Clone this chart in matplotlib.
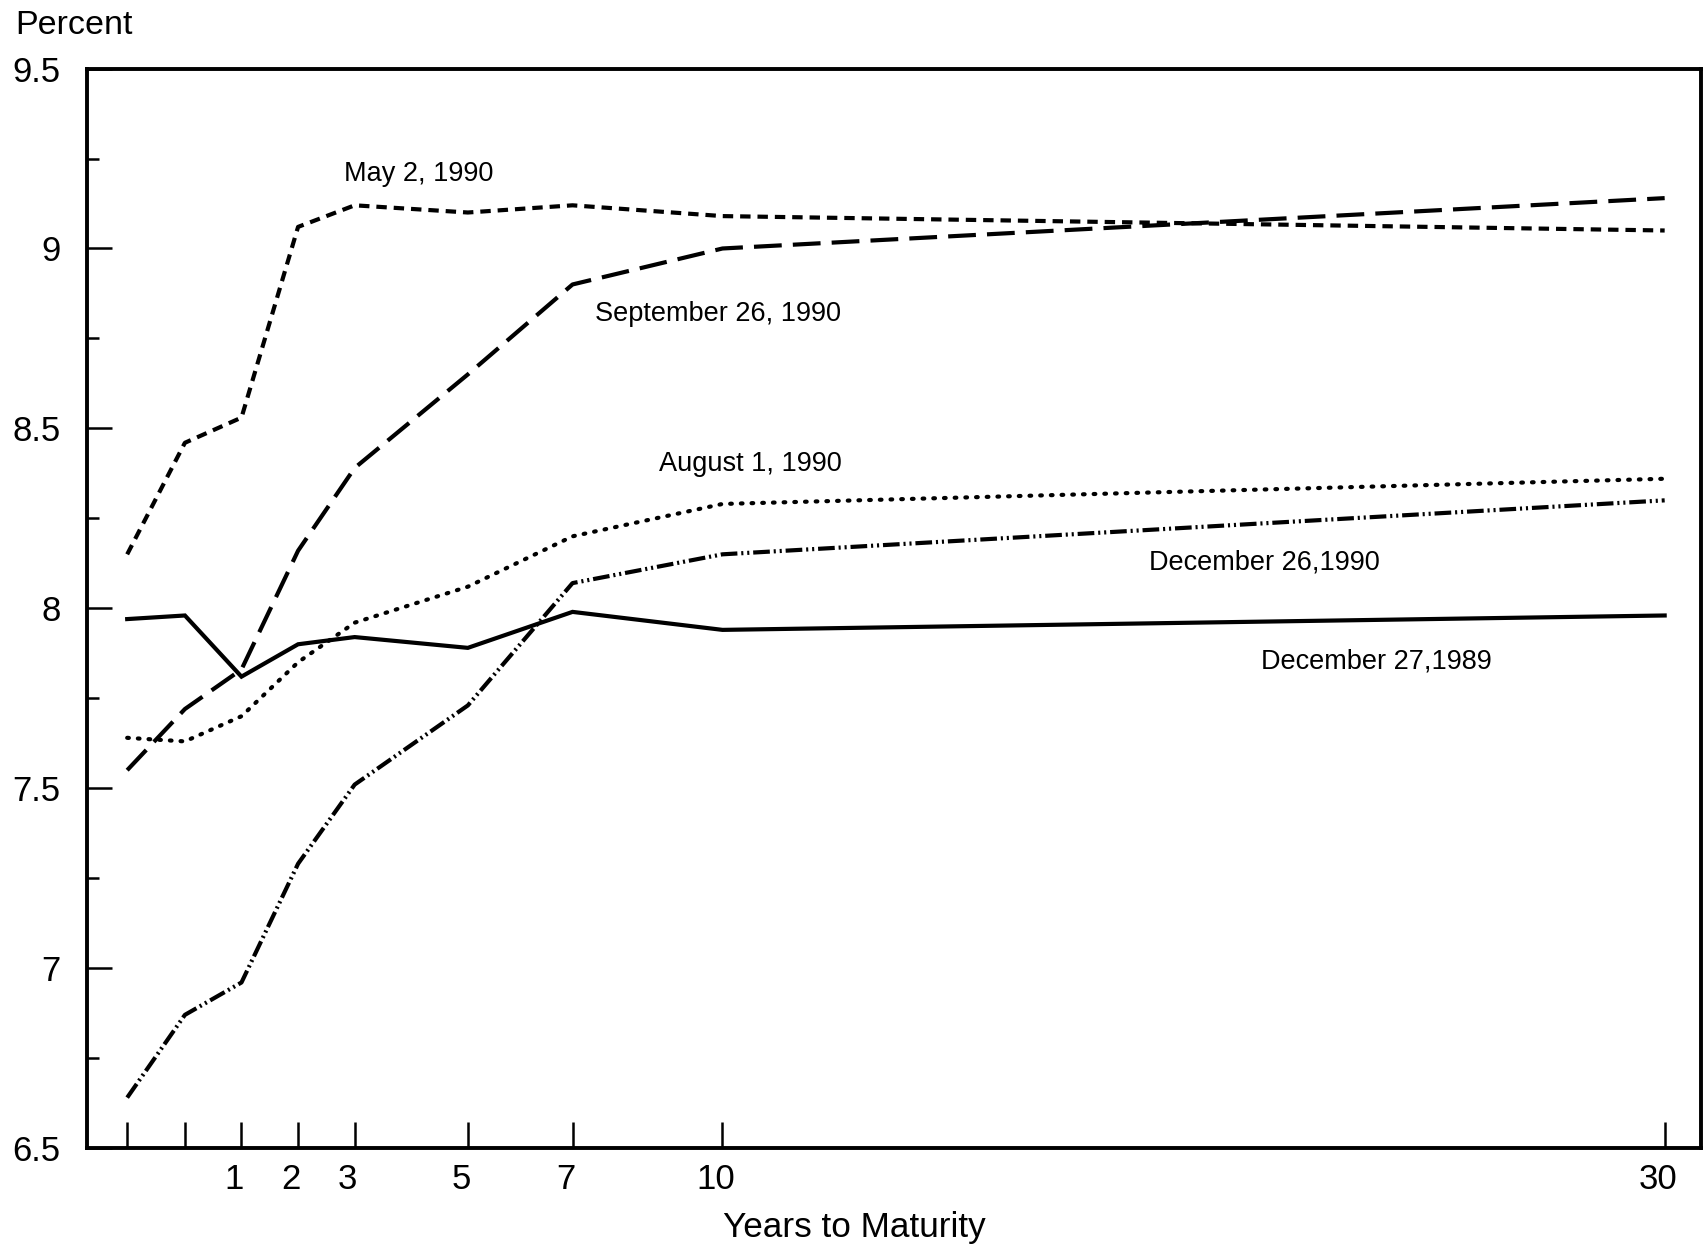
import matplotlib
matplotlib.use("Agg")
import matplotlib.pyplot as plt
import matplotlib.transforms as mtransforms

plt.rcParams["font.family"] = ["Liberation Sans", "DejaVu Sans"]
plt.rcParams["lines.scale_dashes"] = False

# maturities and where they sit on the (uneven) horizontal axis
maturity_pos = [0, 1.02, 2.02, 3.02, 4.02, 6.02, 7.87, 10.52, 27.17]
maturity_labels = ["", "", "1", "2", "3", "5", "7", "10", "30"]

# yields, percent
dec27_1989 = [7.97, 7.98, 7.81, 7.90, 7.92, 7.89, 7.99, 7.94, 7.98]
may2_1990 = [8.15, 8.46, 8.53, 9.06, 9.12, 9.10, 9.12, 9.09, 9.05]
aug1_1990 = [7.64, 7.63, 7.70, 7.85, 7.96, 8.06, 8.20, 8.29, 8.36]
sep26_1990 = [7.55, 7.72, 7.83, 8.16, 8.39, 8.65, 8.90, 9.00, 9.14]
dec26_1990 = [6.64, 6.87, 6.96, 7.29, 7.51, 7.73, 8.07, 8.15, 8.30]

series = [
    ("December 27,1989", dec27_1989, (None, None), (22.08, 7.853)),
    ("May 2, 1990", may2_1990, (0, (7.5, 5)), (5.15, 9.208)),
    ("August 1, 1990", aug1_1990, (0, (1.2, 6.5)), (11.02, 8.402)),
    ("September 26, 1990", sep26_1990, (0, (20, 8)), (10.44, 8.817)),
    ("December 26,1990", dec26_1990, (0, (12, 2.8, 1.5, 2.8, 1.5, 2.8)), (20.1, 8.128)),
]

fig = plt.figure(figsize=(17.06, 12.47), dpi=100)
ax = fig.add_axes([0.051, 0.0794, 0.946, 0.8656])

for name, vals, dash, (tx, ty) in series:
    if dash[0] is None:
        ax.plot(maturity_pos, vals, color="black", lw=3.0, solid_joinstyle="miter")
    else:
        ax.plot(maturity_pos, vals, color="black", lw=3.0, linestyle=dash,
                dash_capstyle="round" if dash[1][0] < 2 else "butt")
    ax.text(tx, ty, name, ha="center", va="center", fontsize=19.5)

ax.set_xlim(-0.71, 27.81)
ax.set_ylim(6.5, 9.5)

ax.set_xticks(maturity_pos)
ax.set_xticklabels(maturity_labels)
ax.tick_params(axis="x", direction="in", length=19, width=1.8, pad=11, labelsize=25)

ax.set_yticks([6.5, 7, 7.5, 8, 8.5, 9, 9.5])
ax.set_yticklabels(["6.5", "7", "7.5", "8", "8.5", "9", "9.5"])
ax.set_yticks([6.75, 7.25, 7.75, 8.25, 8.75, 9.25], minor=True)
ax.tick_params(axis="y", which="major", direction="in", length=18, width=1.8, pad=19, labelsize=25)
ax.tick_params(axis="y", which="minor", direction="in", length=8.5, width=1.8)
ax.tick_params(axis="x", which="minor", length=0)

# nudge the year labels a little left, like the printed original
shift_left = mtransforms.ScaledTranslation(-7 / 100, 0, fig.dpi_scale_trans)
for lab in ax.get_xticklabels():
    lab.set_transform(lab.get_transform() + shift_left)

for side in ["left", "right", "top", "bottom"]:
    ax.spines[side].set_linewidth(2.8)

fig.text(15 / 1706, 1 - 26 / 1247, "Percent", ha="left", va="center", fontsize=24.5)
fig.text(854 / 1706, 1 - 1228 / 1247, "Years to Maturity", ha="center", va="center", fontsize=25.3)

fig.savefig("out.png", dpi=100)
